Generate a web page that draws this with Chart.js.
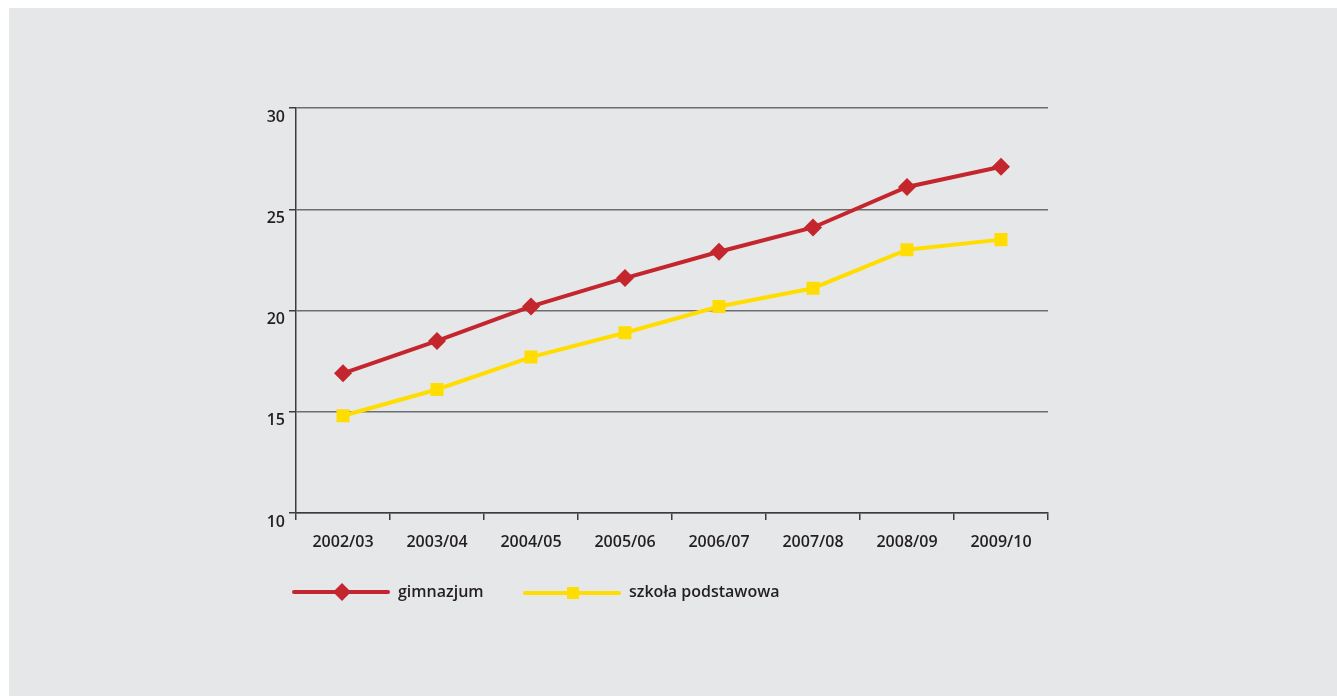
<!DOCTYPE html>
<html>
<head>
<meta charset="utf-8">
<script src="https://cdn.jsdelivr.net/npm/chart.js@4/dist/chart.umd.min.js"></script>
<style>
  html, body { margin: 0; padding: 0; background: #ffffff; }
  #wrap { position: absolute; left: 0; top: 0; width: 1337px; height: 696px; }
</style>
</head>
<body>
<div id="wrap"><canvas id="chart" width="1337" height="696"></canvas></div>
<script>
// School years
const years = ['2002/03', '2003/04', '2004/05', '2005/06', '2006/07', '2007/08', '2008/09', '2009/10'];

// Series values
const gimnazjum = [16.9, 18.5, 20.2, 21.6, 22.9, 24.1, 26.1, 27.1];
const szkolaPodstawowa = [14.8, 16.1, 17.7, 18.9, 20.2, 21.1, 23.0, 23.5];

const seriesLabels = ['gimnazjum', 'szkoła podstawowa'];
const yTicks = [10, 15, 20, 25, 30];

const RED = '#c4262e';
const YELLOW = '#ffdd00';
const BG = '#e6e7e9';
const FONT = "'Open Sans', sans-serif";

// Grey panel with a thin white margin on the top and left
const panelBg = {
  id: 'panelBg',
  beforeDraw(chart) {
    const { ctx, width, height } = chart;
    ctx.save();
    ctx.fillStyle = '#ffffff';
    ctx.fillRect(0, 0, width, height);
    ctx.fillStyle = BG;
    ctx.fillRect(9, 8, width - 9, height - 8);
    ctx.restore();
  },
};

// Legend drawn as line + marker, under the plot
const lineLegend = {
  id: 'lineLegend',
  afterDraw(chart) {
    const { ctx, chartArea } = chart;
    const items = [
      { x: chartArea.left - 2, textX: chartArea.left + 102 },
      { x: chartArea.left + 229, textX: chartArea.left + 333 },
    ];
    ctx.save();
    chart.data.datasets.forEach((ds, i) => {
      const it = items[i];
      const y = chartArea.bottom + 79 + i;
      ctx.strokeStyle = ds.borderColor;
      ctx.lineWidth = 4;
      ctx.lineCap = 'round';
      ctx.beginPath();
      ctx.moveTo(it.x, y);
      ctx.lineTo(it.x + 94, y);
      ctx.stroke();
      const cx = it.x + 48;
      ctx.fillStyle = ds.pointBackgroundColor;
      if (ds.pointStyle === 'rectRot') {
        const r = 9;
        ctx.beginPath();
        ctx.moveTo(cx, y - r);
        ctx.lineTo(cx + r, y);
        ctx.lineTo(cx, y + r);
        ctx.lineTo(cx - r, y);
        ctx.closePath();
        ctx.fill();
      } else {
        ctx.fillRect(cx - 6, y - 6, 12, 12);
      }
      ctx.fillStyle = '#231f20';
      ctx.font = '600 16px ' + FONT;
      ctx.textBaseline = 'middle';
      ctx.textAlign = 'left';
      ctx.fillText(ds.label, it.textX, chartArea.bottom + 79);
    });
    ctx.restore();
  },
};

new Chart(document.getElementById('chart'), {
  type: 'line',
  data: {
    labels: years,
    datasets: [
      {
        label: seriesLabels[0],
        data: gimnazjum,
        borderColor: RED,
        backgroundColor: RED,
        pointBackgroundColor: RED,
        pointBorderColor: RED,
        borderWidth: 4,
        pointStyle: 'rectRot',
        pointRadius: 9,
        pointBorderWidth: 0,
        tension: 0,
      },
      {
        label: seriesLabels[1],
        data: szkolaPodstawowa,
        borderColor: YELLOW,
        backgroundColor: YELLOW,
        pointBackgroundColor: YELLOW,
        pointBorderColor: YELLOW,
        borderWidth: 4,
        pointStyle: 'rect',
        pointRadius: 9.2,
        pointBorderWidth: 0,
        tension: 0,
      },
    ],
  },
  options: {
    responsive: false,
    animation: false,
    layout: { padding: { left: 0, right: 289, top: 108, bottom: 0 } },
    plugins: {
      legend: { display: false },
      tooltip: { enabled: false },
    },
    scales: {
      x: {
        offset: true,
        afterFit: (scale) => { scale.height = 183; },
        grid: {
          offset: true,
          drawOnChartArea: false,
          drawTicks: true,
          tickLength: 7,
          color: '#3c3c3c',
          lineWidth: 1.5,
        },
        border: { display: true, color: '#3c3c3c', width: 1.5 },
        ticks: {
          color: '#231f20',
          font: { family: FONT, size: 16, weight: '600' },
          padding: 13,
          maxRotation: 0,
        },
      },
      y: {
        min: 10,
        max: 30,
        afterFit: (scale) => { scale.width = 296; },
        afterBuildTicks: (scale) => { scale.ticks = yTicks.map(v => ({ value: v })); },
        grid: {
          color: '#6d6e71',
          lineWidth: 1.5,
          tickLength: 7,
          tickColor: '#3c3c3c',
        },
        border: { display: true, color: '#3c3c3c', width: 1.5 },
        ticks: {
          color: '#231f20',
          font: { family: FONT, size: 16, weight: '600' },
          padding: 4,
          labelOffset: 9,
        },
      },
    },
  },
  plugins: [panelBg, lineLegend],
});
</script>
</body>
</html>
